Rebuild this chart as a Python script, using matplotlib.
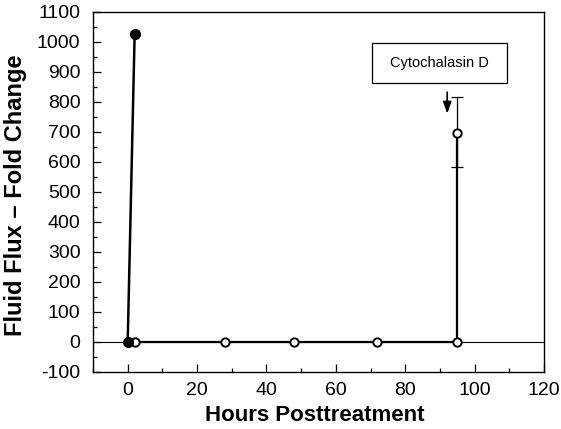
import matplotlib
matplotlib.use("Agg")
import matplotlib.pyplot as plt
from matplotlib.patches import Rectangle
from matplotlib.ticker import MultipleLocator

plt.rcParams["font.family"] = ["Liberation Sans", "DejaVu Sans"]
plt.rcParams["axes.unicode_minus"] = False

# filled series: initial spike
hours_a = [0, 2]
flux_a = [0, 1025]

# open series
hours_b = [2, 28, 48, 72, 95, 95]
flux_b = [0, 0, 0, 0, 0, 695]

# error bar on the last point
err_x = [95]
err_y = [695]
err_lo = [112]
err_hi = [123]

W, H = 561, 429
fig = plt.figure(figsize=(W / 100, H / 100), dpi=100)
ax = fig.add_axes([93 / W, 1 - 372 / H, (544 - 93) / W, (372 - 12) / H])

ax.axhline(0, color="black", lw=0.8, zorder=1)
ax.plot(hours_b, flux_b, color="black", lw=1.6, marker="o", ms=6,
        mfc="white", mec="black", mew=1.4, zorder=3)
ax.plot(hours_a, flux_a, color="black", lw=1.8, marker="o", ms=7,
        mfc="black", mec="black", zorder=4)
ax.errorbar(err_x, err_y, yerr=[err_lo, err_hi], fmt="none", ecolor="black",
            elinewidth=0.9, capsize=4, capthick=0.9, zorder=2)

ax.annotate("", xy=(92.1, 752), xytext=(92.1, 842),
            arrowprops=dict(arrowstyle="-|>,head_width=0.25,head_length=0.7",
                            color="black", lw=1.2))
ax.add_patch(Rectangle((70.5, 863), 38.9, 134, fc="white", ec="black", lw=0.9, zorder=5))
ax.text(89.95, 930, "Cytochalasin D", ha="center", va="center", fontsize=10.5, zorder=6)

ax.set_xlim(-10, 120)
ax.set_ylim(-100, 1100)
ax.xaxis.set_major_locator(MultipleLocator(20))
ax.xaxis.set_minor_locator(MultipleLocator(10))
ax.yaxis.set_major_locator(MultipleLocator(100))
ax.yaxis.set_minor_locator(MultipleLocator(50))
ax.tick_params(which="both", direction="in", top=False, right=False)
ax.tick_params(which="major", length=6, labelsize=14, width=0.9)
ax.tick_params(axis="y", which="major", pad=9)
ax.tick_params(axis="x", which="major", pad=7)
ax.tick_params(which="minor", length=3, width=0.9)
for s in ax.spines.values():
    s.set_linewidth(1.0)

ax.set_xlabel("Hours Posttreatment", fontsize=16, fontweight="bold")
ax.set_ylabel("Fluid Flux \u2013 Fold Change", fontsize=17, fontweight="bold")
ax.xaxis.set_label_coords(315 / W, 1 - 405 / H, transform=fig.transFigure)
ax.yaxis.set_label_coords(27 / W, 1 - 195 / H, transform=fig.transFigure)

fig.savefig("out.png", dpi=100, facecolor="white")
